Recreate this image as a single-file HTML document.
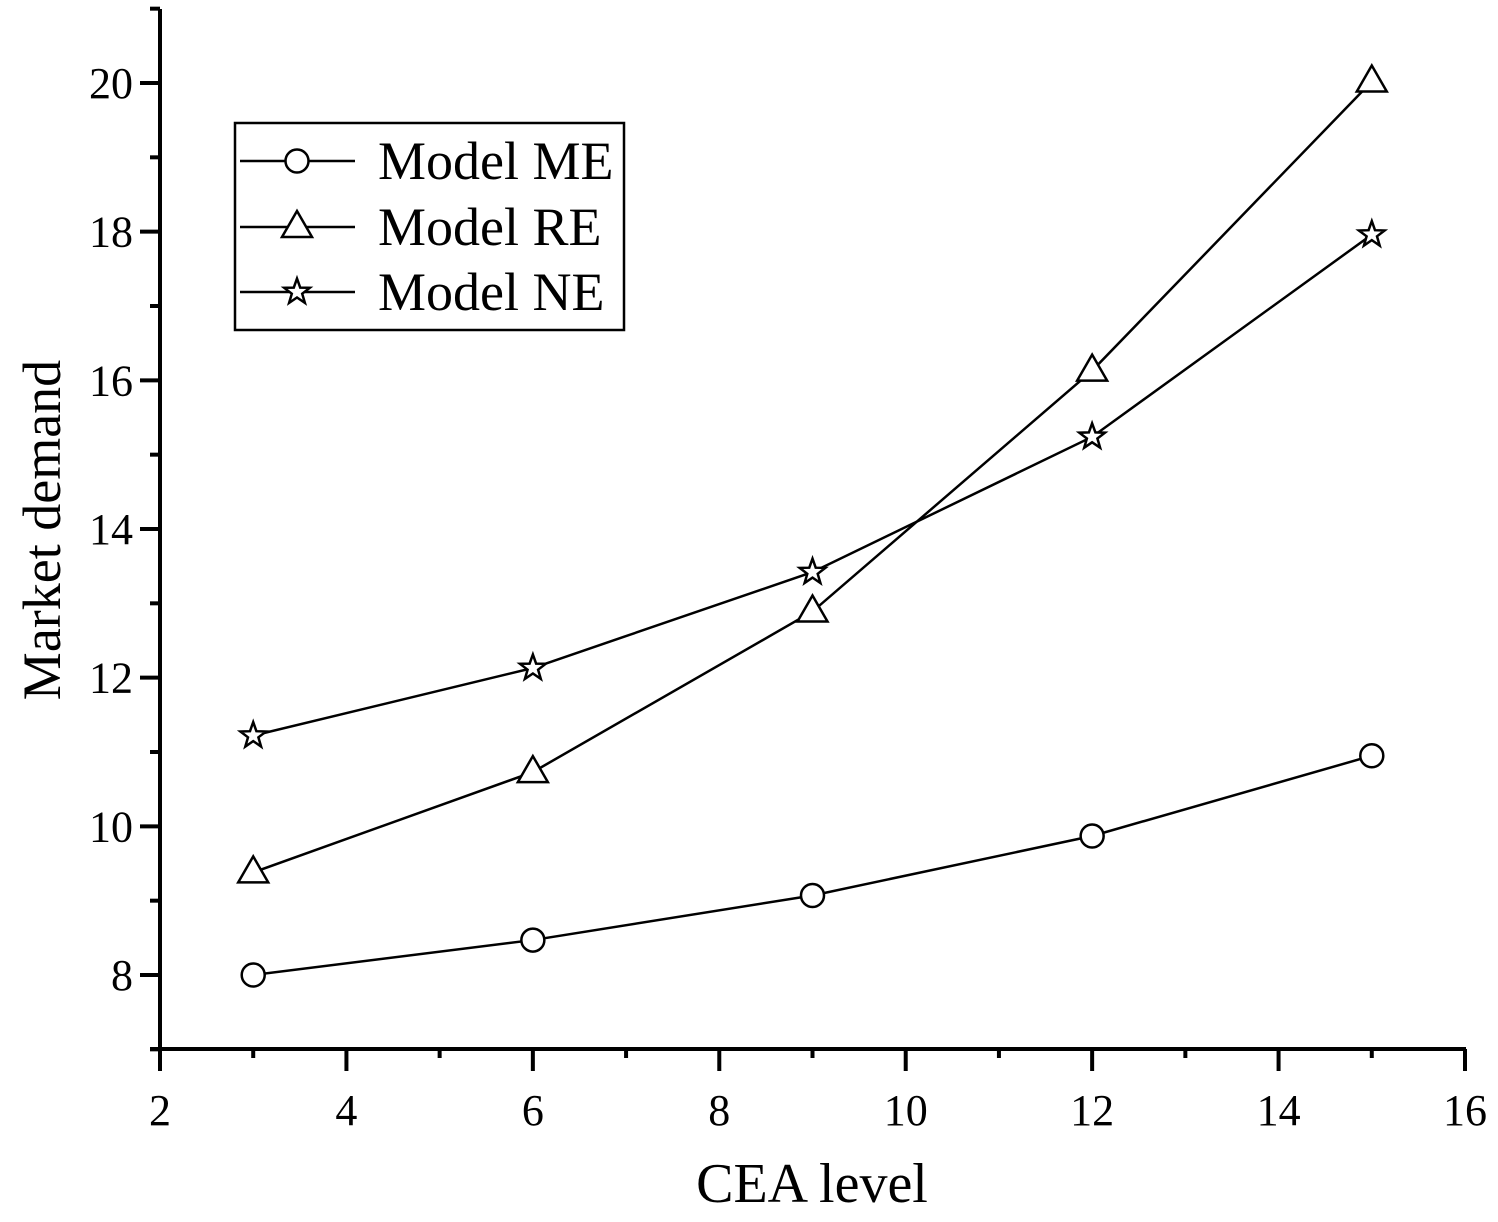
<!DOCTYPE html>
<html><head><meta charset="utf-8"><style>
body{margin:0;background:#fff}
svg{display:block}
text{font-family:"Liberation Serif",serif;fill:#000}
</style></head><body>
<svg id="chart" width="1498" height="1222"></svg>
<script>
const xs=[3,6,9,12,15];
const seriesME=[8.0,8.47,9.07,9.87,10.95];
const seriesRE=[9.38,10.73,12.89,16.13,20.02];
const seriesNE=[11.22,12.13,13.42,15.24,17.96];
const xTicks=[2,4,6,8,10,12,14,16];
const yTicks=[8,10,12,14,16,18,20];
const NS="http://www.w3.org/2000/svg";
const svg=document.getElementById('chart');
const X=v=>160+(v-2)*(1305/14);
const Y=v=>975-(v-8)*(892/12);
function el(t,a,p){const e=document.createElementNS(NS,t);for(const k in a)e.setAttribute(k,a[k]);(p||svg).appendChild(e);return e;}
const axes=el('g',{});


el('line',{x1:160,y1:9,x2:160,y2:1071,stroke:'#000','stroke-width':4},axes);
el('line',{x1:150,y1:1049,x2:1466,y2:1049,stroke:'#000','stroke-width':4},axes);
for(let v=2;v<=16;v++){const maj=v%2===0;el('line',{x1:X(v),y1:1049,x2:X(v),y2:maj?1071:1058,stroke:'#000','stroke-width':4},axes);}
for(let v=7;v<=21;v++){const maj=v%2===0;el('line',{x1:160,y1:Y(v),x2:maj?140:150,y2:Y(v),stroke:'#000','stroke-width':4},axes);}
xTicks.forEach(v=>{const t=el('text',{x:X(v),y:1125,'font-size':44,'text-anchor':'middle'});t.textContent=v;

});
yTicks.forEach(v=>{const t=el('text',{x:133,y:Y(v)+15,'font-size':44,'text-anchor':'end'});t.textContent=v;

});
const xt=el('text',{x:812,y:1202,'font-size':56,'text-anchor':'middle'});xt.textContent='CEA level';


const yt=el('text',{x:0,y:0,'font-size':54,'text-anchor':'middle',transform:'translate(60,530) rotate(-90)'});yt.textContent='Market demand';


function marker(type,cx,cy,g){
 if(type==='circle')return el('circle',{cx,cy,r:11.5,fill:'#fff',stroke:'#000','stroke-width':2.5},g);
 if(type==='tri')return el('polygon',{points:`${cx},${cy-16} ${cx-15},${cy+10} ${cx+15},${cy+10}`,fill:'#fff',stroke:'#000','stroke-width':2.5},g);
 let p=[];for(let i=0;i<10;i++){const r=i%2?5.5:13.5,a=-Math.PI/2+i*Math.PI/5;p.push((cx+r*Math.cos(a)).toFixed(1)+','+(cy+r*Math.sin(a)).toFixed(1));}
 return el('polygon',{points:p.join(' '),fill:'#fff',stroke:'#000','stroke-width':2.5},g);
}
function series(vals,type,name){
 const g=el('g',{});
 
 
 el('polyline',{points:vals.map((v,i)=>X(xs[i])+','+Y(v)).join(' '),fill:'none',stroke:'#000','stroke-width':2.5},g);
 vals.forEach((v,i)=>marker(type,X(xs[i]),Y(v),g));
}
series(seriesME,'circle','series-model-me');
series(seriesRE,'tri','series-model-re');
series(seriesNE,'star','series-model-ne');
const lg=el('g',{});


el('rect',{x:235,y:123,width:389,height:207,fill:'#fff',stroke:'#000','stroke-width':2.5},lg);
[['circle','Model ME',161],['tri','Model RE',227],['star','Model NE',292]].forEach(([t,l,y])=>{
 el('line',{x1:240,y1:y,x2:355,y2:y,stroke:'#000','stroke-width':2.5},lg);
 marker(t,297,y,lg);
 const tx=el('text',{x:378,y:y+18,'font-size':54},lg);tx.textContent=l;
 
 
});
</script>
</body></html>
